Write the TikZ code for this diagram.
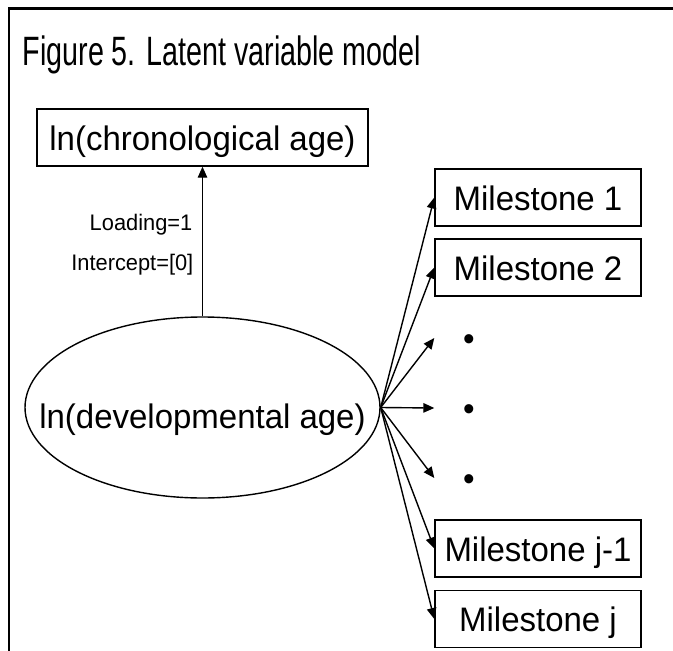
\documentclass[tikz,border=0pt]{standalone}
\usepackage{fontspec}
\setmainfont{Liberation Sans}[FakeStretch=0.97]
\newfontfamily\titlefont{Liberation Sans}[FakeStretch=0.70]
\usepackage{tikz}
\usetikzlibrary{arrows.meta}
\usetikzlibrary{shapes.geometric}

\begin{document}
\begin{tikzpicture}[x=1pt,y=-1pt,
    ->,>={Triangle[length=11pt,width=9.5pt]},
    line width=1.4pt,
    txt/.style={inner sep=0pt, text height=25pt, text depth=0pt,
                font=\fontsize{34}{40}\selectfont},
    box/.style={txt, rectangle, draw, minimum height=57pt},
    milestone/.style={box, minimum width=206pt},
    dotmark/.style={txt, minimum width=68pt},
    lbl/.style={anchor=base east, inner sep=0pt,
                font=\fontsize{22.5}{27}\selectfont}]

    \useasboundingbox (0,0) rectangle (673,651);

    % frame
    \draw[-, line width=2.5pt] (9,651) -- (9,8.5) -- (673,8.5);

    \node[anchor=base west, inner sep=0pt,
          font=\titlefont\fontsize{41}{49}\selectfont
          ] (title) at (22,65.5) {Figure 5. Latent variable model};

    \node[box,
          minimum width = 331pt
          ] (chrono) at (202.5,137.5) {ln(chronological age)};

    \node[ellipse,
          draw,
          inner sep = 0pt,
          minimum width = 355pt,
          minimum height = 181pt
          ] (dev) at (202.5,407.5) {};
    \node[anchor=base, inner sep=0pt, font=\fontsize{34}{40}\selectfont
          ] (devtext) at ([yshift=-20.5pt]dev.center) {ln(developmental age)};

    \node[lbl] (loading) at (193,230) {Loading=1};
    \node[lbl] (intercept) at (194,270) {Intercept=[0]};

    % indicators
    \node[milestone] (m1) at (538,197.5) {Milestone 1};
    \node[milestone] (m2) at (538,267.5) {Milestone 2};
    \node[dotmark] (dot1) at (469,338) {•};
    \node[dotmark] (dot2) at (469,408) {•};
    \node[dotmark] (dot3) at (469,478) {•};
    \node[milestone] (mj1) at (538,548.5) {Milestone j-1};
    \node[milestone] (mj) at (538,619) {Milestone j};

    \path
    (dev.north) edge (chrono.south)
    (dev.east) edge (m1.west)
    (dev.east) edge (m2.west)
    (dev.east) edge (dot1.west)
    (dev.east) edge (dot2.west)
    (dev.east) edge (dot3.west)
    (dev.east) edge (mj1.west)
    (dev.east) edge (mj.west);

\end{tikzpicture}
\end{document}
